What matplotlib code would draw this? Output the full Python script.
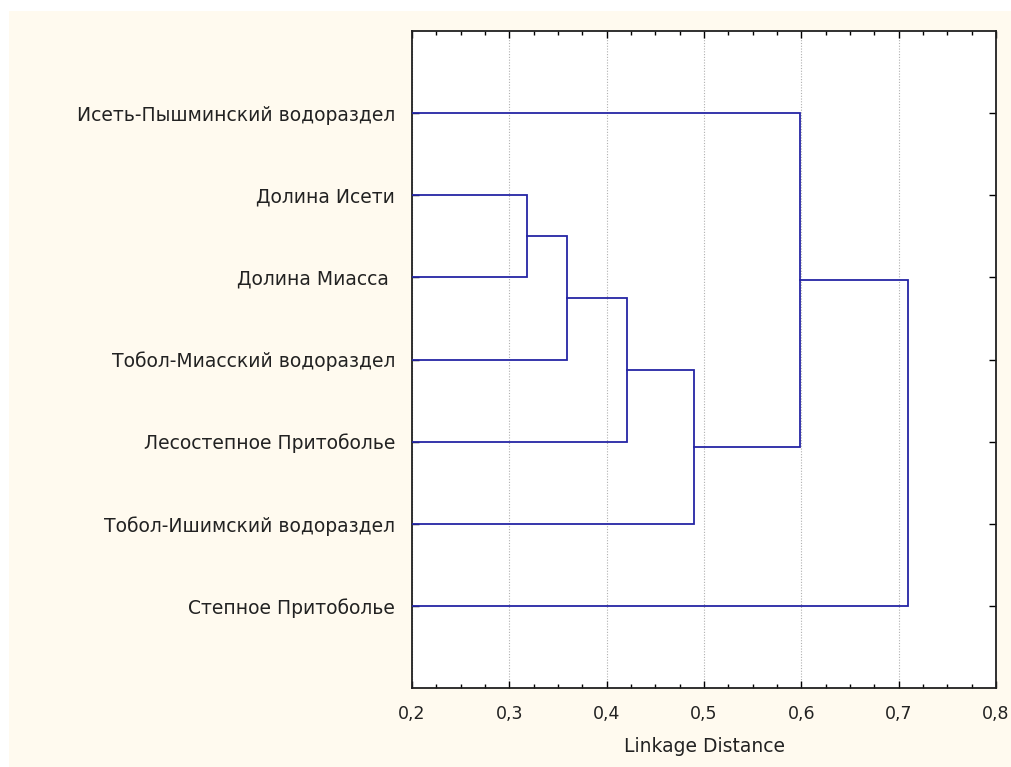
import matplotlib.pyplot as plt
from matplotlib.patches import Rectangle
from matplotlib.ticker import MultipleLocator, FuncFormatter

plt.rcParams['font.family'] = ['DejaVu Sans']

labels = ["Исеть-Пышминский водораздел", "Долина Исети", "Долина Миасса ",
          "Тобол-Миасский водораздел", "Лесостепное Притоболье",
          "Тобол-Ишимский водораздел", "Степное Притоболье"]
# merges: (left node, right node, distance); nodes 0..6 are leaves, then 7, 8, ...
merges = [(1, 2, 0.318), (7, 3, 0.359), (8, 4, 0.421), (9, 5, 0.490),
          (0, 10, 0.599), (11, 6, 0.710)]

line_color = "#2525a5"

fig = plt.figure(figsize=(10.12, 7.67), dpi=100, facecolor="white")
fig.patches.append(Rectangle((9 / 1012, 0), 1 - 9 / 1012, 1 - 11 / 767,
                             transform=fig.transFigure, facecolor="#fffaef",
                             edgecolor="none", zorder=-1))
ax = fig.add_axes([412 / 1012, (767 - 688) / 767, 584 / 1012, 657 / 767])
ax.set_facecolor("white")

pos = {i: (0.2, i + 1) for i in range(len(labels))}
node = len(labels)
for a, b, d in merges:
    xa, ya = pos[a]
    xb, yb = pos[b]
    ax.plot([xa, d, d, xb], [ya, ya, yb, yb], color=line_color, lw=1.3,
            solid_joinstyle="miter", zorder=3)
    pos[node] = (d, (ya + yb) / 2)
    node += 1

ax.set_xlim(0.2, 0.8)
ax.set_ylim(8, 0)
ax.set_yticks(range(1, len(labels) + 1))
ax.set_yticklabels(labels)
ax.xaxis.set_major_locator(MultipleLocator(0.1))
ax.xaxis.set_minor_locator(MultipleLocator(0.025))
ax.xaxis.set_major_formatter(FuncFormatter(lambda v, p: f"{v:.1f}".replace(".", ",")))
ax.grid(axis="x", which="major", color="#b0b0b0", ls=(0, (1, 1.5)), lw=0.8)
ax.tick_params(axis="both", which="major", direction="in", length=5, width=1,
               top=True, right=True, labelsize=12.5, color="black",
               labelcolor="#222222")
ax.tick_params(axis="y", which="major", length=5, pad=12, labelsize=13.5)
ax.tick_params(axis="x", which="minor", direction="in", length=3, width=1,
               top=True, bottom=True)
ax.tick_params(axis="x", which="major", pad=12)
for s in ax.spines.values():
    s.set_linewidth(1.3)
    s.set_color("#202020")
ax.set_xlabel("Linkage Distance", fontsize=13.5, labelpad=10, color="#222222")

fig.savefig("out.png", dpi=100, facecolor=fig.get_facecolor())
